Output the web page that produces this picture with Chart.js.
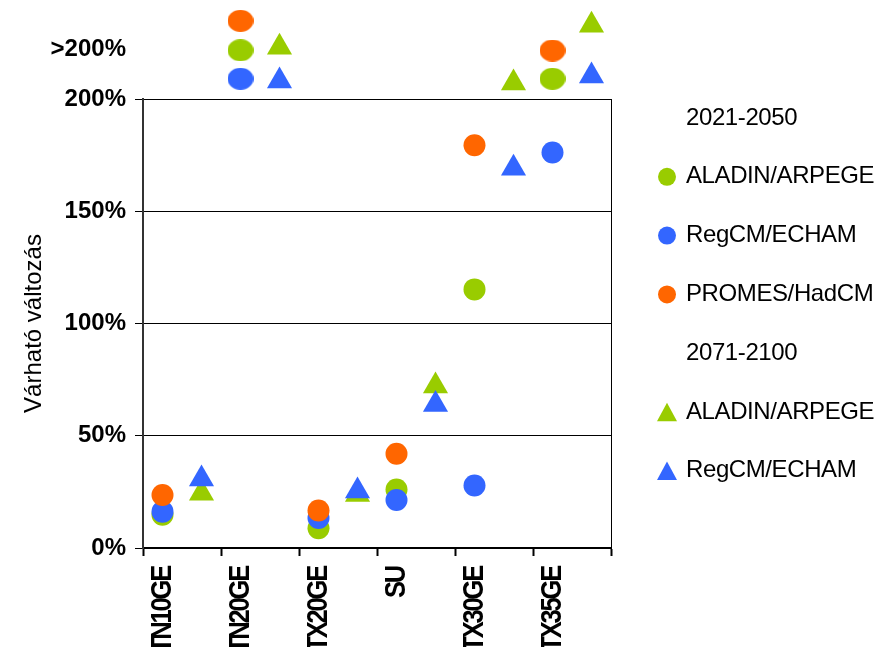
<!DOCTYPE html>
<html>
<head>
<meta charset="utf-8">
<script src="https://cdn.jsdelivr.net/npm/chart.js@4/dist/chart.umd.min.js"></script>
<style>
  html, body { margin: 0; padding: 0; background: #ffffff; }
  #wrap { width: 888px; height: 658px; }
</style>
</head>
<body>
<div id="wrap"><canvas id="chart" width="888" height="658"></canvas></div>
<script>
// Index categories on the horizontal axis
const categories = ['TN10GE', 'TN20GE', 'TX20GE', 'SU', 'TX30GE', 'TX35GE'];
const periods = ['2021-2050', '2071-2100'];

// Vertical axis ticks; the last one labels the band above 200 %
const yTickValues = [0, 50, 100, 150, 200, 222];
const yTickLabels = ['0%', '50%', '100%', '150%', '200%', '>200%'];

// Expected change (%) per model; values over 200 sit in the ">200%" band
const aladin2021 = [14.8, 221.7, 8.8, 26.1, 115.2, 209.0];
const regcm2021  = [16.2, 209.0, 13.4, 21.4, 27.8, 176.2];
const promes2021 = [23.6, 234.8, 16.7, 42.0, 179.4, 221.6];
const aladin2071 = [24.4, 223.1, 23.8, 72.2, 207.1, 232.9];
const regcm2071  = [30.7, 208.0, 25.4, 63.9, 169.2, 210.2];

const GREEN = '#99CC00', BLUE = '#3366FF', ORANGE = '#FF6600';

// each category spans two slots: left one for 2021-2050, right one for 2071-2100
const toPoints = (vals, slot) => vals.map((v, i) => ({ x: i * 2 + slot + 0.5, y: v }));

// flattened marker used for the points above the 200 % line
function ellipseMarker(color) {
  const c = document.createElement('canvas');
  c.width = 26; c.height = 22;
  const g = c.getContext('2d');
  g.fillStyle = color;
  g.beginPath();
  g.ellipse(13, 11, 13, 11, 0, 0, Math.PI * 2);
  g.fill();
  return c;
}

function circleSet(label, vals, color, order) {
  const oval = ellipseMarker(color);
  return {
    label, order, clip: false,
    data: toPoints(vals, 0),
    backgroundColor: color, borderColor: color, borderWidth: 0,
    pointStyle: ctx => (ctx.raw && ctx.raw.y > 200 ? oval : 'circle'),
    pointRadius: 11, pointHoverRadius: 11,
    markerKind: 'circle'
  };
}
function triangleSet(label, vals, color, order) {
  return {
    label, order, clip: false,
    data: toPoints(vals, 1),
    backgroundColor: color, borderColor: color, borderWidth: 0,
    pointStyle: 'triangle',
    pointRadius: 14.5, pointHoverRadius: 14.5,
    markerKind: 'triangle'
  };
}

const datasets = [
  circleSet('ALADIN/ARPEGE', aladin2021, GREEN, 3),
  circleSet('RegCM/ECHAM', regcm2021, BLUE, 2),
  circleSet('PROMES/HadCM', promes2021, ORANGE, 1),
  triangleSet('ALADIN/ARPEGE', aladin2071, GREEN, 5),
  triangleSet('RegCM/ECHAM', regcm2071, BLUE, 4)
];

// the ">200%" band lies above the plot frame, so let points draw up there
const overflowBand = {
  id: 'overflowBand',
  beforeDatasetsDraw(chart) {
    chart._savedTop = chart.chartArea.top;
    chart.chartArea.top = 0;
  },
  afterDatasetsDraw(chart) {
    if (chart._savedTop !== undefined) chart.chartArea.top = chart._savedTop;
  }
};

// legend at the right: period headers followed by their models
const sideLegend = {
  id: 'sideLegend',
  afterDraw(chart) {
    const ctx = chart.ctx;
    const area = chart.chartArea;
    const rows = [
      { text: periods[0] }, { ds: 0 }, { ds: 1 }, { ds: 2 },
      { text: periods[1] }, { ds: 3 }, { ds: 4 }
    ];
    const markerX = area.right + 56;
    const textX = area.right + 75;
    const startY = area.top + 19;
    const step = 58.8;
    ctx.save();
    ctx.font = '24px "Liberation Sans", Arial, sans-serif';
    ctx.letterSpacing = '-0.4px';
    ctx.textBaseline = 'middle';
    ctx.textAlign = 'left';
    rows.forEach((row, i) => {
      const y = startY + i * step;
      if (row.text) {
        ctx.fillStyle = '#000000';
        ctx.fillText(row.text, textX, y);
        return;
      }
      const ds = chart.data.datasets[row.ds];
      ctx.fillStyle = ds.backgroundColor;
      ctx.beginPath();
      if (ds.markerKind === 'circle') {
        ctx.arc(markerX, y, 9, 0, Math.PI * 2);
      } else {
        ctx.moveTo(markerX, y - 9.2);
        ctx.lineTo(markerX + 10, y + 9.2);
        ctx.lineTo(markerX - 10, y + 9.2);
        ctx.closePath();
      }
      ctx.fill();
      ctx.fillStyle = '#000000';
      ctx.fillText(ds.label, textX, y);
    });
    ctx.restore();
  }
};

// condensed, tightly tracked rotated category labels
const tightLabels = {
  id: 'tightLabels',
  afterLayout(chart) {
    const sc = chart.scales.x;
    if (!sc || sc._tight) return;
    const orig = sc.drawLabels;
    sc.drawLabels = function (area) {
      const c = this.ctx;
      const items = this.getLabelItems(area);
      const anchorY = items.length ? items[0].options.translation[1] : this.top;
      c.save();
      c.translate(0, anchorY);
      c.scale(1, 0.88);
      c.translate(0, -anchorY);
      c.letterSpacing = '-2.5px';
      orig.call(this, area);
      c.restore();
    };
    sc._tight = true;
  }
};

new Chart(document.getElementById('chart'), {
  type: 'scatter',
  data: { datasets },
  plugins: [overflowBand, sideLegend, tightLabels],
  options: {
    responsive: false,
    animation: false,
    events: [],
    layout: { padding: { top: 99, right: 277, bottom: 0, left: 0 } },
    plugins: { legend: { display: false }, tooltip: { enabled: false } },
    scales: {
      x: {
        type: 'linear',
        min: 0, max: categories.length * 2,
        afterBuildTicks: scale => {
          scale.ticks = categories.map((c, i) => ({ value: i * 2 })).concat([{ value: categories.length * 2 }]);
        },
        afterFit: scale => { scale.height = 110; },
        border: { display: true, color: '#000000', width: 2 },
        grid: {
          drawOnChartArea: true,
          color: ctx => (ctx.tick && ctx.tick.value === categories.length * 2 ? '#000000' : 'rgba(0,0,0,0)'),
          tickColor: '#000000',
          lineWidth: 1,
          tickWidth: 2,
          tickLength: 8
        },
        ticks: {
          autoSkip: false,
          minRotation: 90, maxRotation: 90,
          labelOffset: 19.5,
          padding: 11,
          color: '#000000',
          font: { family: '"Liberation Sans", Arial, sans-serif', size: 29, weight: 'bold' },
          callback: v => categories[v / 2] || ''
        }
      },
      y: {
        type: 'linear',
        min: 0, max: 200,
        afterBuildTicks: scale => {
          scale.ticks = yTickValues.map(v => ({ value: v }));
        },
        afterFit: scale => { scale.width = 143; },
        border: { display: true, color: '#333333', width: 2 },
        grid: {
          color: ctx => (ctx.tick && ctx.tick.value > 200 ? 'rgba(0,0,0,0)' : '#000000'),
          tickColor: ctx => (ctx.tick && ctx.tick.value > 200 ? 'rgba(0,0,0,0)' : '#000000'),
          lineWidth: 1,
          tickLength: 8
        },
        ticks: {
          autoSkip: false,
          padding: 9,
          color: '#000000',
          font: { family: '"Liberation Sans", Arial, sans-serif', size: 24, weight: 'bold' },
          callback: v => yTickLabels[yTickValues.indexOf(v)]
        },
        title: {
          display: true,
          text: 'Várható változás',
          color: '#000000',
          padding: { top: 20, bottom: 0 },
          font: { family: '"Liberation Sans", Arial, sans-serif', size: 24, weight: 'normal' }
        }
      }
    }
  }
});
</script>
</body>
</html>
